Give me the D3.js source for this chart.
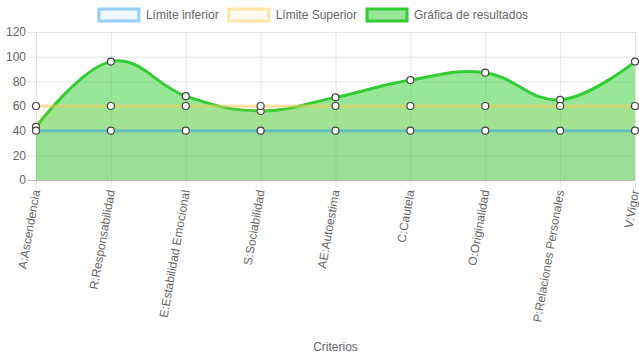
<!DOCTYPE html>
<html>
<head>
<meta charset="utf-8">
<script src="https://cdn.jsdelivr.net/npm/d3@7"></script>
<style>
  body { margin: 0; background: #fff; }
  svg { display: block; font-family: "Liberation Sans", Arial, sans-serif; }
</style>
</head>
<body>
<svg id="chart" width="639" height="360"></svg>
<script>
var categories = ["A:Ascendencia", "R:Responsabilidad", "E:Estabilidad Emocional", "S:Sociabilidad",
                  "AE:Autoestima", "C:Cautela", "O:Originalidad", "P:Relaciones Personales", "V:Vigor"];
var limiteInferior = [40, 40, 40, 40, 40, 40, 40, 40, 40];
var limiteSuperior = [60, 60, 60, 60, 60, 60, 60, 60, 60];
var resultados = [43, 96, 68, 56, 67, 81, 87, 65, 96];
var yTicks = [0, 20, 40, 60, 80, 100, 120];

var series = [
    {label: "Límite inferior", values: limiteInferior, border: "rgba(54,162,235,0.5)", fill: "rgba(54,162,235,0.08)"},
    {label: "Límite Superior", values: limiteSuperior, border: "rgba(255,206,86,0.5)", fill: "rgba(255,206,86,0.1)"},
    {label: "Gráfica de resultados", values: resultados, border: "#32cd32", fill: "rgba(50,205,50,0.5)"}
];

var svg = d3.select("#chart");
var plotLeft = 36, plotRight = 635, plotTop = 32, plotBottom = 180;

var x = d3.scalePoint().domain(categories).range([plotLeft, plotRight]);
var y = d3.scaleLinear().domain([0, 120]).range([plotBottom, plotTop]);

// grid
svg.append("g").selectAll("line").data(yTicks).enter().append("line")
   .attr("x1", plotLeft - 8).attr("x2", plotRight)
   .attr("y1", function(d) { return y(d) + 0.5; })
   .attr("y2", function(d) { return y(d) + 0.5; })
   .attr("stroke", function(d) { return d == 0 ? "rgba(0,0,0,0.25)" : "rgba(0,0,0,0.1)"; });

svg.append("g").selectAll("line").data(categories).enter().append("line")
   .attr("x1", function(d) { return x(d) + 0.5; })
   .attr("x2", function(d) { return x(d) + 0.5; })
   .attr("y1", plotTop).attr("y2", plotBottom + 8)
   .attr("stroke", "rgba(0,0,0,0.1)");

// y labels
svg.append("g").selectAll("text").data(yTicks).enter().append("text")
   .attr("x", plotLeft - 10)
   .attr("y", function(d) { return y(d); })
   .attr("dy", "0.35em")
   .attr("text-anchor", "end")
   .attr("font-size", 12)
   .attr("fill", "#666")
   .text(function(d) { return d; });

// x labels
svg.append("g").selectAll("text").data(categories).enter().append("text")
   .attr("transform", function(d) { return "translate(" + x(d) + "," + (plotBottom + 10) + ") rotate(-80)"; })
   .attr("dy", "0.35em")
   .attr("text-anchor", "end")
   .attr("font-size", 12)
   .attr("fill", "#666")
   .text(function(d) { return d; });

svg.append("text")
   .attr("x", (plotLeft + plotRight) / 2).attr("y", 351)
   .attr("text-anchor", "middle")
   .attr("font-size", 12)
   .attr("fill", "#666")
   .text("Criterios");

var curve = d3.curveCardinal.tension(-0.2);
var line = d3.line()
    .x(function(d, i) { return x(categories[i]); })
    .y(function(d) { return y(d); })
    .curve(curve);
var area = d3.area()
    .x(function(d, i) { return x(categories[i]); })
    .y0(y(0))
    .y1(function(d) { return y(d); })
    .curve(curve);

// draw last dataset first, like chart.js
series.slice().reverse().forEach(function(s) {
    var g = svg.append("g");
    g.append("path").datum(s.values).attr("d", area).attr("fill", s.fill);
    g.append("path").datum(s.values).attr("d", line)
     .attr("fill", "none").attr("stroke", s.border).attr("stroke-width", 3);
    g.selectAll("circle").data(s.values).enter().append("circle")
     .attr("cx", function(d, i) { return x(categories[i]); })
     .attr("cy", function(d) { return y(d); })
     .attr("r", 3.5)
     .attr("fill", "#fff")
     .attr("stroke", "#444")
     .attr("stroke-width", 1.2);
});

// legend
var legend = svg.append("g");
var items = legend.selectAll("g").data(series).enter().append("g");
items.append("rect")
     .attr("width", 40).attr("height", 12)
     .attr("fill", function(d) { return d.fill; })
     .attr("stroke", function(d) { return d.border; })
     .attr("stroke-width", 3);
items.append("text")
     .attr("x", 47).attr("y", 6).attr("dy", "0.35em")
     .attr("font-size", 12).attr("fill", "#666")
     .text(function(d) { return d.label; });

var widths = [];
items.each(function() { widths.push(47 + this.querySelector("text").getComputedTextLength()); });
var total = d3.sum(widths) + 10 * (widths.length - 1);
var cx = (639 - total) / 2 - 6;
items.attr("transform", function(d, i) {
    var tx = cx;
    cx += widths[i] + 10;
    return "translate(" + tx + ",9)";
});
</script>
</body>
</html>
